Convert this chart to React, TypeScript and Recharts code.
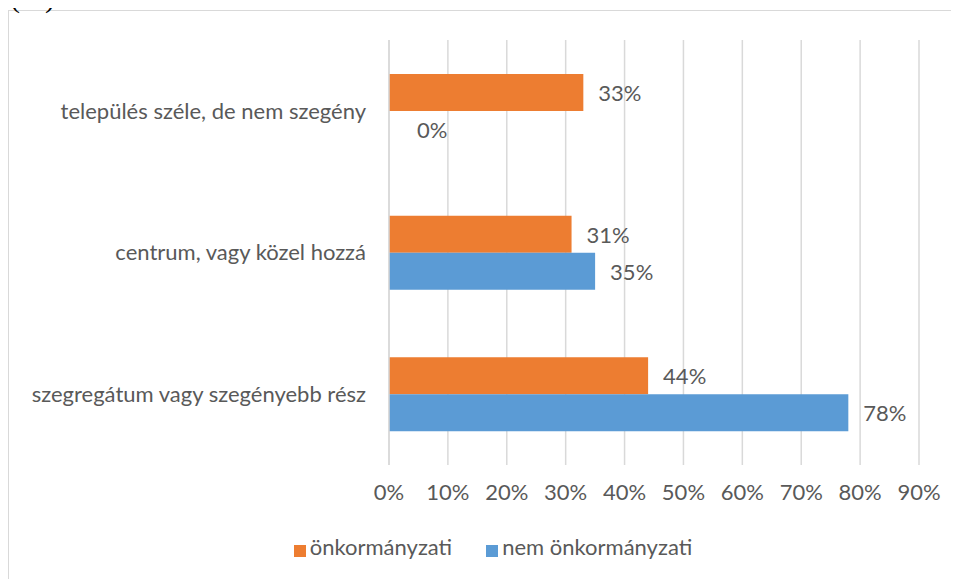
import { BarChart, Bar, XAxis, YAxis, CartesianGrid, Legend, LabelList } from "recharts";

const categories = [
  "település széle, de nem szegény",
  "centrum, vagy közel hozzá",
  "szegregátum vagy szegényebb rész",
];
const onkormanyzati = [0.33, 0.31, 0.44];
const nemOnkormanyzati = [0, 0.35, 0.78];
const xTicks = [0, 0.1, 0.2, 0.3, 0.4, 0.5, 0.6, 0.7, 0.8, 0.9];

const data = categories.map((name, i) => ({
  name,
  onk: onkormanyzati[i],
  nem: nemOnkormanyzati[i],
}));

const font = "Lato, 'Liberation Sans', sans-serif";
const textColor = "#595959";
const fs = 22;
const pct = (v: any) => `${Math.round(Number(v) * 100)}%`;

// value label to the right of the bar, zero values sit a bit further out like in Excel
const renderValue = (props: any) => {
  const { x, y, width, height, value } = props;
  const gap = Number(value) === 0 ? 28 : 15;
  return (
    <text
      x={Number(x) + Number(width) + gap}
      y={Number(y) + Number(height) / 2}
      dominantBaseline="central"
      fill={textColor}
      fontSize={fs}
      fontFamily={font}
    >
      {pct(value)}
    </text>
  );
};

const App = () => {
  return (
    <div style={{ fontFamily: font, paddingTop: 2 }}>
      <div
        style={{
          position: "relative",
          top: -28,
          height: 0,
          marginLeft: 2,
          lineHeight: "30px",
          fontFamily: "'Liberation Serif', serif",
          fontSize: 30,
        }}
      >
        (%)
      </div>
      <div
        style={{
          width: 960,
          height: 580,
          border: "1px solid #d9d9d9",
          boxSizing: "border-box",
        }}
      >
        <BarChart
          width={950}
          height={568}
          data={data}
          layout="vertical"
          barSize={37}
          barGap={0}
          margin={{ top: 29, right: 40, bottom: 16, left: 0 }}
        >
          <CartesianGrid horizontal={false} stroke="#d9d9d9" strokeWidth={1.5} />
          <XAxis
            type="number"
            domain={[0, 0.9]}
            ticks={xTicks}
            tickFormatter={pct}
            axisLine={false}
            tickLine={false}
            tickSize={0}
            tickMargin={19}
            height={68}
            tick={{ fill: textColor, fontSize: fs, fontFamily: font }}
          />
          <YAxis
            type="category"
            dataKey="name"
            width={380}
            axisLine={{ stroke: "#d9d9d9", strokeWidth: 1.5 }}
            tickLine={false}
            tickSize={0}
            tickMargin={23}
            tick={{ fill: textColor, fontSize: fs, fontFamily: font }}
          />
          <Legend
            verticalAlign="bottom"
            iconType="square"
            iconSize={12}
            height={30}
            wrapperStyle={{ left: 0, width: 978 }}
            itemSorter={(item: any) => (item.dataKey === "onk" ? 0 : 1)}
            formatter={(value, _entry, index) => (
              <span
                style={{
                  color: textColor,
                  fontSize: fs,
                  fontFamily: font,
                  marginRight: index === 0 ? 24 : 0,
                }}
              >
                {value}
              </span>
            )}
          />
          <Bar dataKey="onk" name="önkormányzati" fill="#ED7D31" isAnimationActive={false}>
            <LabelList dataKey="onk" content={renderValue} />
          </Bar>
          <Bar
            dataKey="nem"
            name="nem önkormányzati"
            fill="#5B9BD5"
            minPointSize={0.01}
            isAnimationActive={false}
          >
            <LabelList dataKey="nem" content={renderValue} />
          </Bar>
        </BarChart>
      </div>
    </div>
  );
};

export default App;
